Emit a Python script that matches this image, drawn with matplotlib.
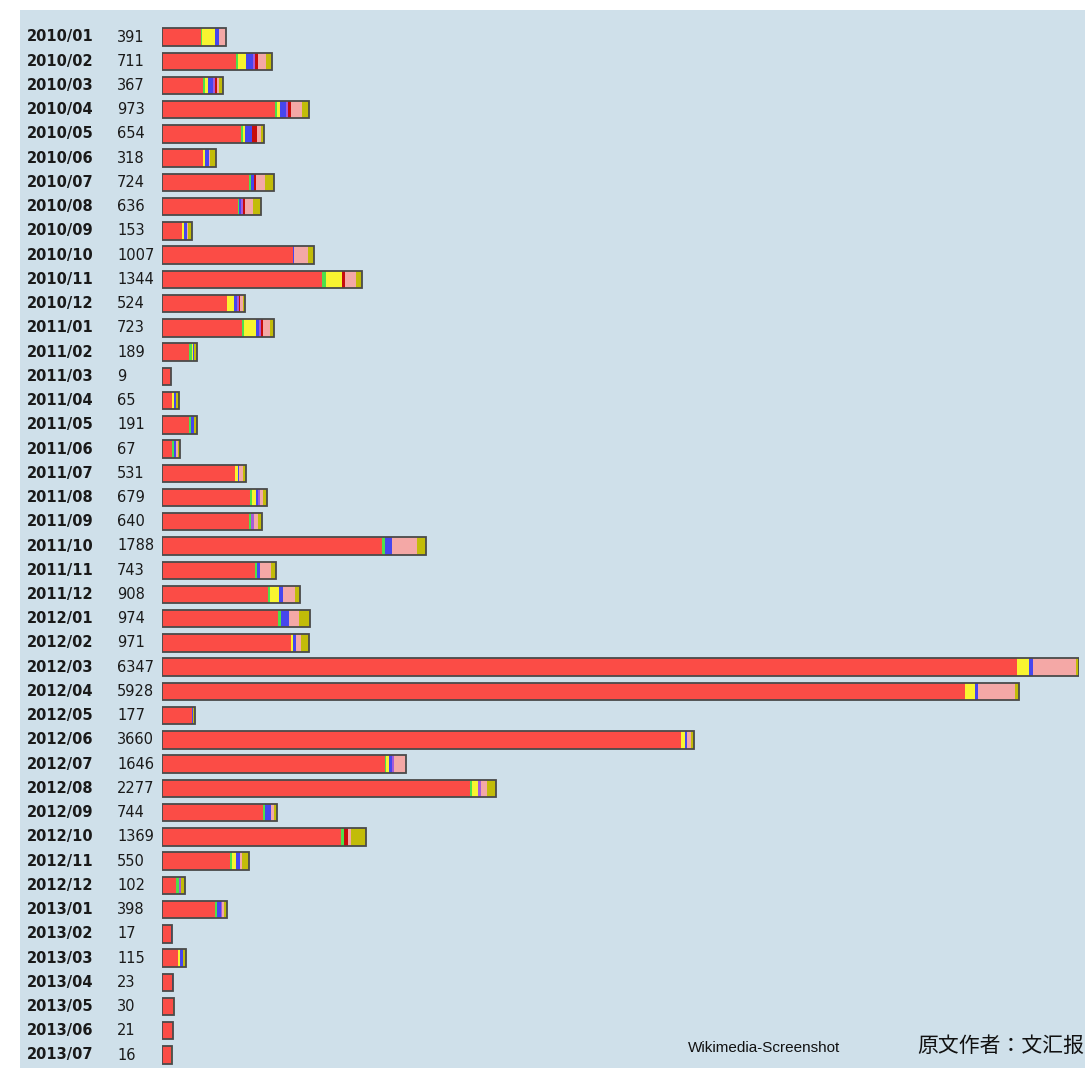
import matplotlib
matplotlib.use("Agg")
import matplotlib.pyplot as plt
import numpy as np
from matplotlib.transforms import blended_transform_factory
from matplotlib.patches import Rectangle

months = ["2010/01", "2010/02", "2010/03", "2010/04", "2010/05", "2010/06", "2010/07", "2010/08",
          "2010/09", "2010/10", "2010/11", "2010/12", "2011/01", "2011/02", "2011/03", "2011/04",
          "2011/05", "2011/06", "2011/07", "2011/08", "2011/09", "2011/10", "2011/11", "2011/12",
          "2012/01", "2012/02", "2012/03", "2012/04", "2012/05", "2012/06", "2012/07", "2012/08",
          "2012/09", "2012/10", "2012/11", "2012/12", "2013/01", "2013/02", "2013/03", "2013/04",
          "2013/05", "2013/06", "2013/07"]
totals = [391, 711, 367, 973, 654, 318, 724, 636, 153, 1007, 1344, 524, 723, 189, 9, 65,
          191, 67, 531, 679, 640, 1788, 743, 908, 974, 971, 6347, 5928, 177, 3660, 1646, 2277,
          744, 1369, 550, 102, 398, 17, 115, 23, 30, 21, 16]

green =   [9, 14, 14, 14, 19, 0, 12, 12, 0, 0, 30, 0, 14, 19, 0, 0,
           14, 14, 0, 9, 12, 23, 14, 12, 23, 0, 0, 0, 0, 0, 12, 14,
           16, 23, 12, 16, 12, 0, 0, 0, 0, 0, 0]
yellow =  [88, 51, 16, 21, 14, 14, 0, 0, 14, 0, 116, 51, 86, 9, 0, 14,
           0, 0, 19, 33, 0, 0, 0, 63, 0, 16, 84, 70, 0, 28, 19, 37,
           0, 0, 30, 0, 0, 0, 12, 0, 0, 0, 0]
blue =    [30, 52, 39, 43, 47, 28, 23, 14, 19, 9, 0, 19, 19, 9, 0, 14,
           19, 9, 9, 9, 0, 47, 19, 28, 54, 23, 28, 21, 9, 14, 20, 0,
           37, 0, 28, 0, 28, 4, 23, 6, 0, 0, 0]
purple =  [0, 13, 12, 11, 0, 0, 0, 12, 0, 0, 0, 14, 16, 0, 0, 0,
           0, 0, 0, 14, 23, 0, 0, 0, 0, 0, 0, 0, 0, 0, 13, 23,
           0, 0, 0, 19, 7, 5, 0, 0, 0, 0, 0]
darkred = [0, 19, 12, 21, 33, 0, 14, 14, 0, 0, 16, 9, 14, 0, 0, 0,
           0, 0, 0, 0, 0, 0, 0, 0, 0, 0, 0, 0, 0, 0, 0, 0,
           0, 28, 0, 0, 0, 0, 0, 0, 0, 0, 0]
pink =    [47, 56, 14, 77, 28, 12, 61, 56, 9, 93, 77, 19, 51, 0, 0, 0,
           0, 14, 28, 23, 28, 175, 79, 84, 70, 35, 300, 258, 0, 28, 84, 42,
           23, 19, 14, 0, 19, 0, 0, 0, 0, 0, 0]
olive =   [0, 42, 28, 54, 19, 37, 61, 56, 28, 47, 47, 14, 23, 19, 0, 23,
           23, 14, 19, 30, 23, 63, 37, 35, 72, 54, 21, 28, 16, 21, 0, 65,
           19, 107, 47, 23, 19, 0, 23, 0, 6, 0, 6]
others = [green, yellow, blue, purple, darkred, pink, olive]
red = [t - sum(col) for t, col in zip(totals, zip(*others))]

series = [red] + others
colors = ["#fb4c46", "#4ee04a", "#f8f430", "#4646ee", "#a65ad8", "#c80c0c", "#f4a8a6", "#c2bc08"]

W, H = 1085, 1076
PAD = 56  # constant inner padding of every bar (in value units)
fig = plt.figure(figsize=(W / 100, H / 100), dpi=100)
fig.patch.set_facecolor("white")
fig.patches.append(Rectangle((20 / W, (H - 1068) / H), (W - 20) / W, (1068 - 10) / H,
                             transform=fig.transFigure, facecolor="#cfe0ea",
                             edgecolor="none", zorder=-5))

n = len(months)
row0, rowstep = 37.0, (1055.0 - 37.0) / (n - 1)
top_px = row0 - rowstep / 2
bot_px = row0 + rowstep * (n - 1) + rowstep / 2
ax = fig.add_axes([162 / W, (H - bot_px) / H, 917 / W, (bot_px - top_px) / H])
ax.set_zorder(2)
ax.set_xlim(0, max(totals) + PAD)
ax.set_ylim(n - 0.5, -0.5)
ax.axis("off")
ax.patch.set_alpha(0)

y = np.arange(n)
ax.barh(y, PAD, left=0, height=0.72, color=colors[0], linewidth=0, zorder=2)
left = np.full(n, float(PAD))
for vals, c in zip(series, colors):
    v = np.array(vals, dtype=float)
    ax.barh(y, v, left=left, height=0.72, color=c, linewidth=0, zorder=2)
    left += v
ax.barh(y, np.array(totals) + PAD, height=0.72, fill=False, edgecolor="#4a4a4a",
        linewidth=1.3, zorder=3)

tr = blended_transform_factory(fig.transFigure, ax.transData)
for i, (m, t) in enumerate(zip(months, totals)):
    ax.text(27 / W, i, m, transform=tr, ha="left", va="center", fontsize=10.5,
            fontweight="bold", color="#1a1a1a", family="DejaVu Sans", clip_on=False)
    ax.text(117 / W, i, str(t), transform=tr, ha="left", va="center", fontsize=10.5,
            color="#1a1a1a", family="DejaVu Sans", clip_on=False)

fig.text(688 / W, 1 - 1048 / H, "Wikimedia-Screenshot", ha="left", va="center",
         fontsize=11, family="Liberation Sans", color="#111111", zorder=3)
fig.text(917 / W, 1 - 1046 / H, "原文作者：文汇报", ha="left", va="center",
         fontsize=15, family=["Noto Sans CJK JP", "DejaVu Sans"], color="#111111", zorder=3)

fig.savefig("out.png", dpi=100, facecolor="white")
